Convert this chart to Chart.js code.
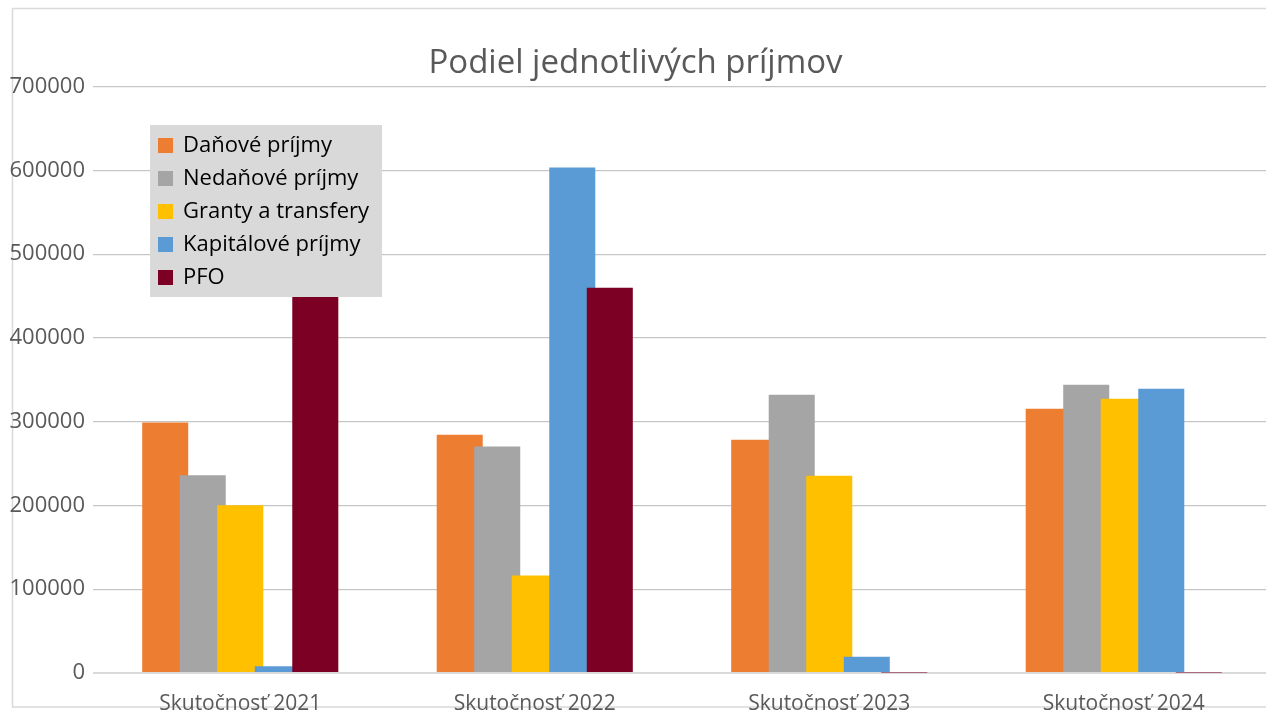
<!DOCTYPE html>
<html>
<head>
<meta charset="utf-8">
<script src="https://cdn.jsdelivr.net/npm/chart.js@4"></script>
<style>
  html, body { margin: 0; padding: 0; background: #fff; overflow: hidden; }
  #obal { width: 1280px; height: 710px; }
</style>
</head>
<body>
<div id="obal"><canvas id="graf" width="1280" height="710"></canvas></div>
<script>
// kategorie a hodnoty odcitane z grafu
const roky = ['Skutočnosť 2021', 'Skutočnosť 2022', 'Skutočnosť 2023', 'Skutočnosť 2024'];
const danove = [299000, 284500, 278500, 315500];
const nedanove = [236000, 270500, 332300, 344200];
const granty = [200300, 116300, 235600, 327500];
const kapitalove = [8000, 603400, 19500, 339400];
const pfo = [480000, 460000, 600, 600];

const nazvy = ['Daňové príjmy', 'Nedaňové príjmy', 'Granty a transfery', 'Kapitálové príjmy', 'PFO'];
const farby = ['#ED7D31', '#A5A5A5', '#FFC000', '#5B9BD5', '#7B0023'];
const yMax = 700000;
const yKrok = 100000;

const pismo = "'Open Sans', 'Noto Sans', sans-serif";

// ramik okolo grafu a biele pozadie
const ramik = {
    id: 'ramik',
    beforeDraw(chart) {
        const ctx = chart.ctx;
        ctx.save();
        ctx.fillStyle = '#fff';
        ctx.fillRect(0, 0, chart.width, chart.height);
        ctx.strokeStyle = '#d9d9d9';
        ctx.lineWidth = 1.5;
        ctx.strokeRect(12.5, 8.5, chart.width + 20, 698.5);
        ctx.restore();
    }
};

// stlpce sa prekryvaju, neskorsi rad ma byt navrchu
const poradie = {
    id: 'poradie',
    beforeDatasetsDraw(chart) {
        chart.getSortedVisibleDatasetMetas().forEach(m => m.controller.draw());
        return false;
    }
};

// legenda vo vnutri grafu
const legenda = {
    id: 'legenda',
    afterDraw(chart) {
        const ctx = chart.ctx;
        ctx.save();
        ctx.fillStyle = '#d9d9d9';
        ctx.fillRect(150, 125, 232, 172);
        ctx.font = '22px ' + pismo;
        ctx.textBaseline = 'middle';
        chart.data.datasets.forEach((ds, i) => {
            const y = 145 + i * 33;
            ctx.fillStyle = ds.backgroundColor;
            ctx.fillRect(158, y - 7, 15, 15);
            ctx.fillStyle = '#000';
            ctx.fillText(ds.label, 183, y + 1);
        });
        ctx.restore();
    }
};

const hodnoty = [danove, nedanove, granty, kapitalove, pfo];

new Chart(document.getElementById('graf').getContext('2d'), {
    type: 'bar',
    data: {
        labels: roky,
        datasets: hodnoty.map((d, i) => ({
            label: nazvy[i],
            data: d,
            backgroundColor: farby[i],
            borderWidth: 0,
            categoryPercentage: 0.637,
            barPercentage: 1.227
        }))
    },
    options: {
        responsive: false,
        animation: false,
        layout: { padding: { left: 0, right: 9, top: 0, bottom: 0 } },
        plugins: {
            legend: { display: false },
            tooltip: { enabled: false },
            title: {
                display: true,
                text: 'Podiel jednotlivých príjmov',
                color: '#595959',
                font: { family: pismo, size: 33, weight: 'normal', lineHeight: 1.2 },
                padding: { top: 44, bottom: 3 }
            }
        },
        scales: {
            x: {
                grid: { display: false },
                border: { display: false },
                ticks: {
                    color: '#595959',
                    font: { family: pismo, size: 21 },
                    padding: 10
                },
                afterFit(s) { s.height = 37; }
            },
            y: {
                min: 0,
                max: yMax,
                grid: {
                    color: ctx => ctx.tick.value === 0 ? '#d9d9d9' : '#c6c6c6',
                    lineWidth: ctx => ctx.tick.value === 0 ? 2 : 1.2,
                    drawTicks: false
                },
                border: { display: false },
                ticks: {
                    stepSize: yKrok,
                    color: '#595959',
                    font: { family: pismo, size: 22 },
                    padding: 8,
                    callback: v => String(v)
                },
                afterFit(s) { s.width = 93; }
            }
        }
    },
    plugins: [ramik, poradie, legenda]
});
</script>
</body>
</html>
